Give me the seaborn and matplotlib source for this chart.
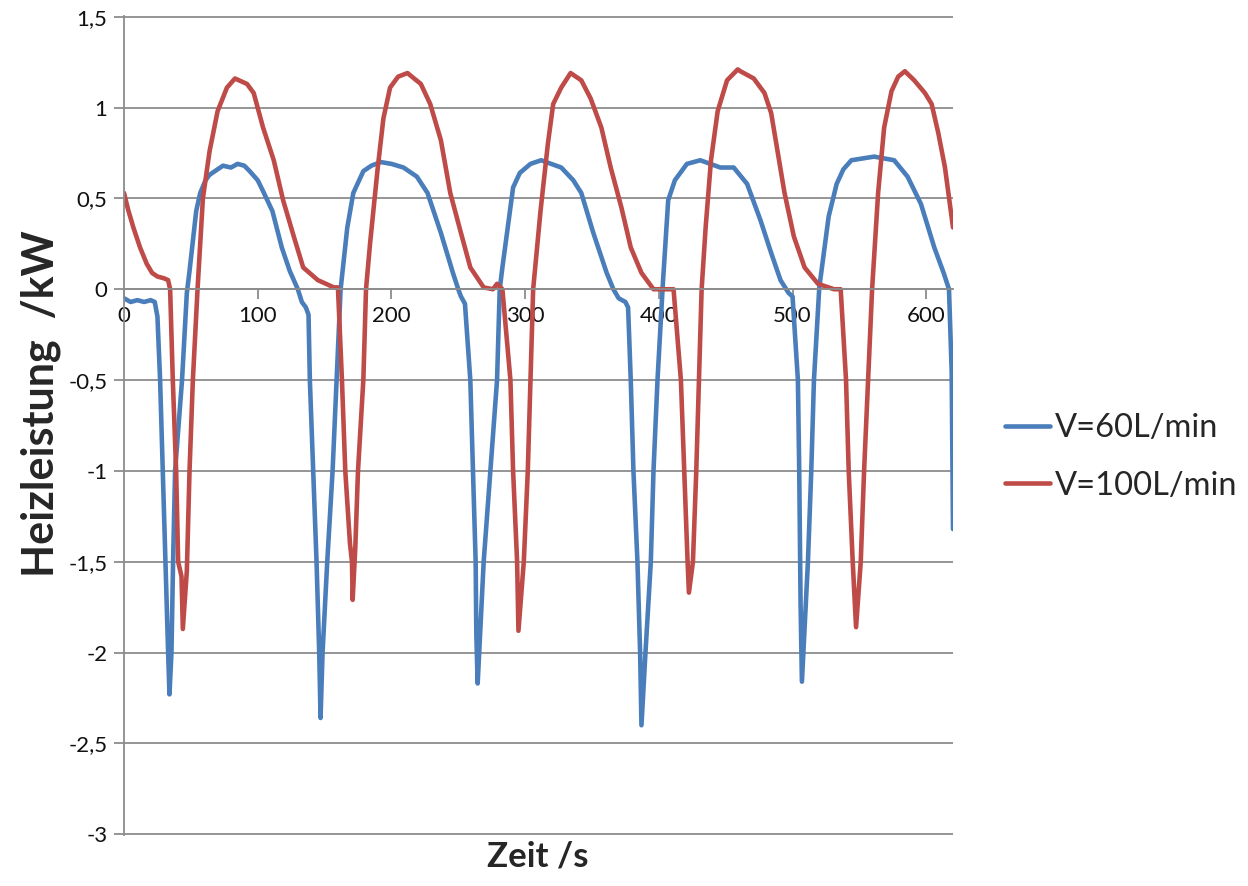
import matplotlib
matplotlib.use("Agg")
import matplotlib.pyplot as plt
import matplotlib.ticker
import numpy as np
import pandas as pd
import seaborn as sns

# values
t_60 = [0, 5, 10, 15, 20, 23, 25, 27, 29, 31, 33, 34, 35.5, 36.7, 38.2, 43.4, 47, 49, 54, 57, 61, 64, 70, 74, 80, 85, 90, 94, 100, 104, 111,
        118, 124, 130, 133, 136, 138, 139, 141.5, 144, 146, 147, 148.5, 152, 156, 159, 162, 167, 171.5, 179, 185, 192, 200, 209, 219, 227, 237, 246, 250, 252, 255,
        259, 261, 263, 263.5, 264.5, 269, 274, 279, 281, 283, 291, 296, 304, 312, 327, 336, 342, 351, 361, 366, 370, 375, 377,
        379, 381, 384, 386, 387, 390, 394, 396, 399, 403, 407, 412, 421, 431, 446, 456, 466, 476, 484, 491, 497, 500,
        504, 505, 506, 507, 511.5, 514, 516, 520, 527, 533, 538, 544, 561, 576, 586, 596, 606, 613, 617, 619, 620]
p_60 = [-0.05, -0.07, -0.06, -0.07, -0.06, -0.07, -0.15, -0.5, -1.0, -1.5, -2.0, -2.23, -2.0, -1.5, -1.0, -0.5, -0.02, 0.1, 0.43, 0.53, 0.60, 0.63, 0.66, 0.68, 0.67, 0.69, 0.68, 0.65, 0.60, 0.54, 0.43,
        0.23, 0.10, 0.0, -0.07, -0.10, -0.14, -0.5, -1.0, -1.5, -2.0, -2.36, -2.0, -1.5, -1.0, -0.5, 0.0, 0.34, 0.53, 0.65, 0.68, 0.70, 0.69, 0.67, 0.62, 0.53, 0.31, 0.09, 0.0, -0.04, -0.08,
        -0.5, -1.0, -1.5, -1.9, -2.17, -1.5, -1.0, -0.5, 0.0, 0.12, 0.56, 0.64, 0.69, 0.71, 0.67, 0.60, 0.53, 0.31, 0.09, 0.0, -0.05, -0.07, -0.10,
        -0.5, -1.0, -1.5, -2.0, -2.40, -2.0, -1.5, -1.0, -0.5, 0.03, 0.49, 0.60, 0.69, 0.71, 0.67, 0.67, 0.58, 0.38, 0.20, 0.05, -0.02, -0.04,
        -0.5, -1.0, -1.73, -2.16, -1.5, -1.0, -0.5, 0.01, 0.40, 0.58, 0.66, 0.71, 0.73, 0.71, 0.62, 0.47, 0.23, 0.09, 0.0, -0.45, -1.32]

t_100 = [0, 3, 7, 12, 17, 21, 25, 30, 33, 34.5, 36.5, 39, 40.5, 43, 44, 47, 49, 51.5, 55, 59, 64, 70, 77, 83, 92, 97, 104, 112, 119, 127, 134, 145, 157,
         160, 163, 165.5, 169, 170.5, 171, 173, 175, 179, 181, 184, 189.5, 194, 199, 205, 212, 222, 229, 237, 244, 252, 259, 269, 276, 279, 283,
         289, 291, 294, 295, 299, 302, 304, 306, 311.5, 317, 321, 327, 334, 342, 349, 357, 364, 372, 379, 387, 396, 411,
         416.5, 419, 421.5, 422.5, 425.5, 428, 430, 432, 435, 439, 444, 451, 459, 461, 471, 479, 484, 489, 494, 501, 509, 519, 531, 536,
         540, 542, 545, 547.5, 551, 553.5, 556.5, 559.5, 564, 568.5, 574, 579, 584, 591, 599, 604, 609, 614, 620]
p_100 = [0.53, 0.44, 0.34, 0.23, 0.14, 0.09, 0.07, 0.06, 0.05, 0.0, -0.5, -1.0, -1.5, -1.58, -1.87, -1.55, -1.0, -0.5, 0.0, 0.5, 0.76, 0.98, 1.11, 1.16, 1.13, 1.08, 0.89, 0.71, 0.49, 0.29, 0.12, 0.05, 0.01,
         0.01, -0.5, -1.0, -1.40, -1.5, -1.71, -1.42, -1.0, -0.5, 0.0, 0.25, 0.65, 0.94, 1.11, 1.17, 1.19, 1.13, 1.02, 0.82, 0.53, 0.31, 0.12, 0.01, 0.0, 0.03, 0.0,
         -0.5, -1.0, -1.5, -1.88, -1.5, -1.0, -0.5, 0.0, 0.43, 0.80, 1.02, 1.11, 1.19, 1.15, 1.05, 0.89, 0.67, 0.45, 0.23, 0.09, 0.0, 0.0,
         -0.5, -1.0, -1.5, -1.67, -1.5, -1.0, -0.5, 0.0, 0.34, 0.71, 0.98, 1.15, 1.21, 1.20, 1.16, 1.08, 0.97, 0.75, 0.53, 0.29, 0.12, 0.03, 0.0, 0.0,
         -0.5, -1.0, -1.5, -1.86, -1.5, -1.0, -0.5, 0.0, 0.53, 0.89, 1.09, 1.17, 1.20, 1.15, 1.08, 1.02, 0.86, 0.67, 0.34]

labels = ["V=60L/min", "V=100L/min"]
colors = ["#4A7EBB", "#BE4B48"]

df = pd.concat([
    pd.DataFrame({"Zeit": t_60, "Leistung": p_60, "Serie": labels[0]}),
    pd.DataFrame({"Zeit": t_100, "Leistung": p_100, "Serie": labels[1]}),
], ignore_index=True)

sns.set_style("white")
plt.rcParams['font.family'] = ['Lato', 'DejaVu Sans']
plt.rcParams['axes.unicode_minus'] = False

fig = plt.figure(figsize=(12.48, 8.86), dpi=100)
ax = fig.add_axes([124 / 1248, 1 - 835 / 886, (953 - 124) / 1248, (835 - 16) / 886])

sns.lineplot(data=df, x="Zeit", y="Leistung", hue="Serie", palette=colors,
             estimator=None, sort=False, linewidth=3.3, ax=ax, legend=False)

ax.set_xlim(0, 620)
ax.set_ylim(-3.004, 1.504)
ax.set_xticks(np.arange(0, 601, 100))
ax.set_yticks(np.arange(-3, 1.51, 0.5))

def komma(v, pos):
    s = "{:g}".format(round(v, 2))
    return s.replace(".", ",")

ax.yaxis.set_major_formatter(matplotlib.ticker.FuncFormatter(komma))
ax.xaxis.set_major_formatter(matplotlib.ticker.FuncFormatter(lambda v, p: "{:d}".format(int(v))))

grey = "#8c8c8c"
ax.grid(axis="y", color=grey, linewidth=1.3)
ax.grid(axis="x", visible=False)
for side in ["top", "right"]:
    ax.spines[side].set_visible(False)
ax.spines["left"].set_color(grey)
ax.spines["left"].set_linewidth(1.3)
ax.spines["bottom"].set_position(("data", 0))
ax.spines["bottom"].set_color(grey)
ax.spines["bottom"].set_linewidth(1.3)
ax.set_axisbelow(True)

ax.tick_params(axis="y", direction="out", length=7, width=1.3, color=grey,
               labelsize=16, labelcolor="#111111", pad=5, left=True)
ax.tick_params(axis="x", direction="out", length=7, width=1.3, color=grey,
               labelsize=16, labelcolor="#111111", pad=5, bottom=True)
ax.set_xlabel("")
ax.set_ylabel("")

fig.text(538 / 1248, 1 - 857 / 886, "Zeit /s", fontsize=25, fontweight="bold",
         ha="center", va="center")
fig.text(41 / 1248, 1 - 404 / 886, "Heizleistung  /kW", fontsize=31, fontweight="bold",
         rotation=90, ha="center", va="center")

handles = [plt.Line2D([], [], color=c, linewidth=3.3) for c in colors]
fig.legend(handles, labels, loc="center left", bbox_to_anchor=(992 / 1248, 1 - 457 / 886),
           frameon=False, fontsize=23.5, handlelength=1.38, handletextpad=0.15,
           labelspacing=0.85, borderaxespad=0)

fig.savefig("out.png", dpi=100)
